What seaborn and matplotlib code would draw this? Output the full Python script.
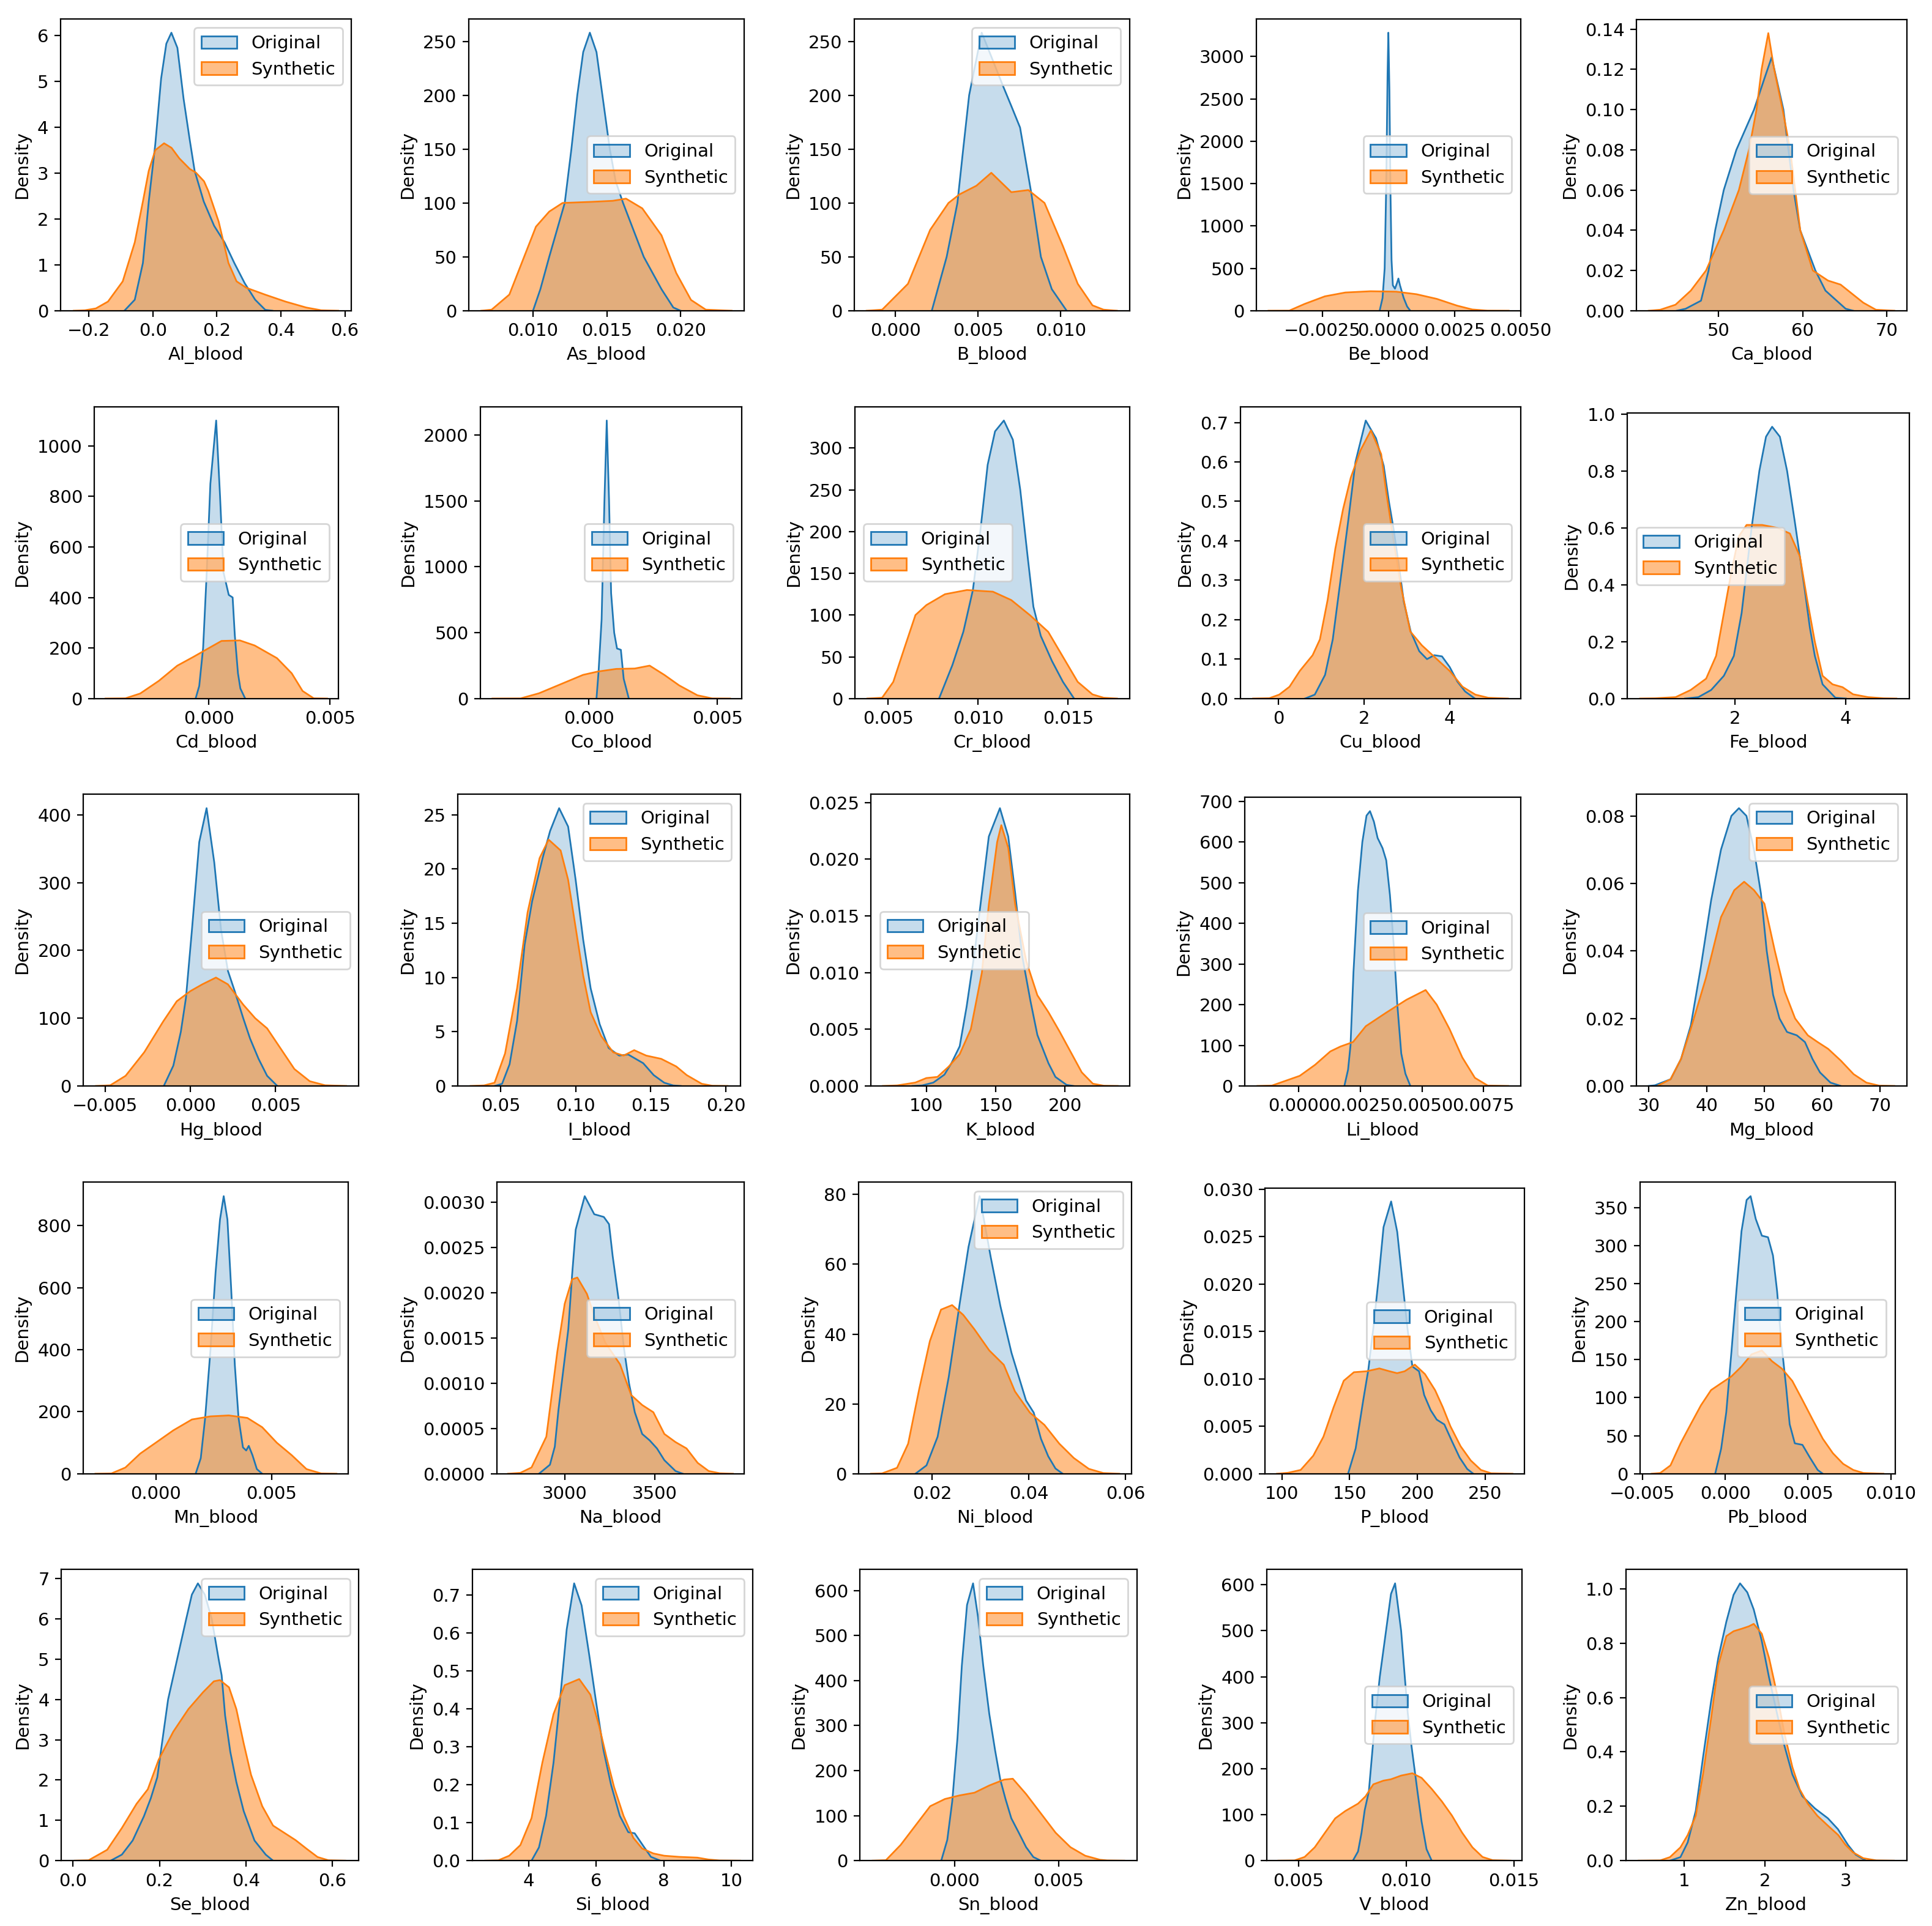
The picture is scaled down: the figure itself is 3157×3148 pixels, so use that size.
import matplotlib
matplotlib.use("Agg")
import matplotlib.pyplot as plt
from matplotlib.colors import to_rgba
from matplotlib.patches import Patch
import seaborn as sns

# density curves (x value, density)
AL_ORIG_X = [-0.0889, -0.0564, -0.031, -0.0127, 0.0077, 0.0259, 0.0422, 0.058, 0.0768, 0.0961, 0.1154, 0.1306, 0.1591, 0.1916, 0.2241, 0.2546, 0.2871, 0.3197, 0.3512, 0.3735]
AL_ORIG_D = [0, 0.24, 1.04, 2.38, 3.63, 5.06, 5.82, 6.06, 5.73, 4.62, 3.72, 3.05, 2.38, 1.85, 1.49, 1.04, 0.6, 0.24, 0.02, 0]
AL_SYN_X = [-0.247, -0.212, -0.178, -0.14, -0.094, -0.0564, -0.031, -0.0127, 0.0077, 0.0351, 0.0585, 0.0829, 0.1154, 0.1347, 0.1601, 0.1733, 0.2058, 0.2363, 0.2617, 0.2922, 0.3512, 0.4142, 0.4792, 0.526, 0.579]
AL_SYN_D = [0, 0.01, 0.05, 0.2, 0.64, 1.49, 2.38, 3.05, 3.5, 3.65, 3.55, 3.32, 3.09, 3.01, 2.82, 2.61, 1.94, 1.04, 0.64, 0.5, 0.35, 0.2, 0.07, 0.01, 0]

AS_ORIG_X = [0.0100, 0.0105, 0.0111, 0.01215, 0.0126, 0.0130, 0.0134, 0.01385, 0.0143, 0.0147, 0.0152, 0.0156, 0.0161, 0.0168, 0.0175, 0.0187, 0.0195, 0.0200]
AS_ORIG_D = [0, 20, 50, 100, 150, 200, 240, 258, 240, 200, 150, 120, 100, 75, 50, 20, 3, 0]
AS_SYN_X = [0.0065, 0.0072, 0.0084, 0.0094, 0.0102, 0.0111, 0.0120, 0.0139, 0.0154, 0.0163, 0.0174, 0.0187, 0.0197, 0.0207, 0.0217, 0.02345]
AS_SYN_D = [0, 1, 15, 50, 78, 92, 100, 101, 102, 104, 95, 70, 35, 10, 1, 0]

B_ORIG_X = [0.0022, 0.0031, 0.00375, 0.0041, 0.00446, 0.00522, 0.0059, 0.00647, 0.00701, 0.00754, 0.00821, 0.0088, 0.00946, 0.01036]
B_ORIG_D = [0, 50, 100, 150, 200, 258, 232, 210, 190, 170, 110, 50, 20, 0]
B_SYN_X = [-0.00174, -0.0008, 0.00076, 0.0021, 0.00321, 0.00388, 0.0049, 0.0058, 0.00701, 0.00804, 0.00902, 0.01013, 0.01103, 0.01192, 0.01259, 0.0134]
B_SYN_D = [0, 1, 25, 75, 100, 108, 116, 128, 110, 112, 100, 60, 25, 5, 1, 0]

BE_ORIG_X = [-0.00033, -0.00022, -0.00014, -0.00008, -0.00003, 0.0, 0.00004, 0.00008, 0.00012, 0.00017, 0.00025, 0.00033, 0.00038, 0.00044, 0.00058, 0.00071, 0.00083]
BE_ORIG_D = [0, 150, 500, 1500, 2800, 3280, 2600, 1400, 600, 300, 260, 330, 380, 300, 150, 50, 0]
BE_SYN_X = [-0.00453, -0.00375, -0.00317, -0.0024, -0.00163, -0.00067, 0.00029, 0.00106, 0.00183, 0.0026, 0.00317, 0.00375, 0.00455]
BE_SYN_D = [0, 1, 80, 170, 215, 230, 225, 195, 140, 60, 15, 1, 0]

CA_ORIG_X = [45.0, 46.07, 47.89, 48.79, 49.58, 50.6, 52.1, 54.2, 55.4, 56.3, 57.7, 58.3, 58.9, 59.7, 61.5, 62.7, 65.1, 66.0]
CA_ORIG_D = [0, 0.001, 0.005, 0.02, 0.04, 0.06, 0.08, 0.10, 0.115, 0.126, 0.10, 0.08, 0.06, 0.04, 0.02, 0.01, 0.001, 0]
CA_SYN_X = [41.67, 43.05, 44.86, 46.68, 48.49, 50.6, 52.4, 53.6, 54.5, 55.1, 55.9, 56.6, 57.6, 58.5, 59.1, 59.7, 61.2, 63.0, 64.5, 65.4, 67.2, 68.7, 70.9]
CA_SYN_D = [0, 0.0005, 0.003, 0.01, 0.02, 0.04, 0.06, 0.08, 0.10, 0.12, 0.138, 0.12, 0.10, 0.08, 0.06, 0.04, 0.02, 0.015, 0.013, 0.01, 0.004, 0.0005, 0]

CD_ORIG_X = [-0.00055, -0.0004, -0.00024, -0.00009, 0.00006, 0.0003, 0.00046, 0.0006, 0.00082, 0.00098, 0.00107, 0.0012, 0.0013, 0.0015]
CD_ORIG_D = [0, 50, 200, 500, 850, 1100, 800, 500, 410, 400, 250, 100, 40, 0]
CD_SYN_X = [-0.00427, -0.00345, -0.00284, -0.00207, -0.00131, -0.00064, -0.00009, 0.00052, 0.00128, 0.00189, 0.00281, 0.00342, 0.00387, 0.00433, 0.00488]
CD_SYN_D = [0, 1, 20, 70, 130, 165, 195, 228, 230, 210, 160, 100, 30, 1, 0]

CO_ORIG_X = [0.00029, 0.00037, 0.00049, 0.0006, 0.00069, 0.00078, 0.00086, 0.00098, 0.00109, 0.00124, 0.00135, 0.00155]
CO_ORIG_D = [0, 200, 600, 1500, 2110, 1500, 800, 500, 380, 370, 150, 0]
CO_SYN_X = [-0.00376, -0.00267, -0.00195, -0.00109, -0.00023, 0.00034, 0.00106, 0.00178, 0.00236, 0.00293, 0.00351, 0.00422, 0.0048, 0.00549]
CO_SYN_D = [0, 1, 40, 110, 180, 205, 225, 228, 250, 180, 100, 25, 1, 0]

CR_ORIG_X = [0.00783, 0.00857, 0.00918, 0.00971, 0.01012, 0.01053, 0.01094, 0.01143, 0.01193, 0.01234, 0.01275, 0.01307, 0.01348, 0.0141, 0.01471, 0.01533]
CR_ORIG_D = [0, 40, 80, 130, 200, 280, 320, 333, 310, 250, 170, 110, 75, 45, 20, 0]
CR_SYN_X = [0.00385, 0.00467, 0.00529, 0.0059, 0.00652, 0.00713, 0.00816, 0.00938, 0.01082, 0.01184, 0.01287, 0.01389, 0.01471, 0.01553, 0.01635, 0.01697, 0.01771]
CR_SYN_D = [0, 1, 20, 60, 100, 112, 125, 130, 128, 118, 100, 80, 50, 20, 5, 1, 0]

CU_ORIG_X = [0.62, 0.85, 1.09, 1.27, 1.45, 1.63, 1.8, 2.04, 2.28, 2.46, 2.58, 2.69, 2.81, 2.93, 3.09, 3.29, 3.47, 3.64, 3.82, 4.0, 4.18, 4.36, 4.59]
CU_ORIG_D = [0, 0.01, 0.06, 0.15, 0.3, 0.45, 0.6, 0.705, 0.66, 0.59, 0.5, 0.43, 0.34, 0.245, 0.17, 0.12, 0.1, 0.11, 0.107, 0.08, 0.043, 0.018, 0]
CU_SYN_X = [-0.59, -0.21, 0.02, 0.26, 0.5, 0.8, 0.97, 1.15, 1.33, 1.51, 1.69, 1.92, 2.16, 2.4, 2.51, 2.69, 2.87, 3.08, 3.35, 3.7, 4.0, 4.3, 4.6, 4.9, 5.36]
CU_SYN_D = [0, 0.001, 0.01, 0.03, 0.07, 0.11, 0.15, 0.25, 0.38, 0.48, 0.56, 0.63, 0.68, 0.62, 0.53, 0.4, 0.28, 0.17, 0.135, 0.1, 0.07, 0.03, 0.01, 0.002, 0]

FE_ORIG_X = [1.1, 1.34, 1.57, 1.8, 1.98, 2.12, 2.21, 2.3, 2.44, 2.56, 2.67, 2.81, 2.94, 3.08, 3.17, 3.26, 3.35, 3.44, 3.58, 3.81, 4.0]
FE_ORIG_D = [0, 0.005, 0.03, 0.08, 0.15, 0.3, 0.45, 0.6, 0.8, 0.92, 0.955, 0.92, 0.8, 0.62, 0.5, 0.38, 0.25, 0.15, 0.05, 0.003, 0]
FE_SYN_X = [0.29, 0.56, 0.93, 1.2, 1.48, 1.66, 1.8, 1.94, 2.07, 2.21, 2.49, 2.76, 2.99, 3.17, 3.3, 3.44, 3.58, 3.76, 3.94, 4.13, 4.4, 4.68, 4.91]
FE_SYN_D = [0, 0.001, 0.005, 0.03, 0.07, 0.15, 0.3, 0.45, 0.57, 0.61, 0.61, 0.6, 0.58, 0.5, 0.35, 0.2, 0.08, 0.05, 0.04, 0.015, 0.005, 0.001, 0]

HG_ORIG_X = [-0.00156, -0.001, -0.00056, -0.00026, 0.00009, 0.00052, 0.00095, 0.0014, 0.0018, 0.0022, 0.0026, 0.0031, 0.0035, 0.004, 0.0045, 0.0051]
HG_ORIG_D = [0, 30, 80, 130, 230, 360, 410, 330, 230, 170, 140, 100, 70, 40, 15, 0]
HG_SYN_X = [-0.00554, -0.0047, -0.0038, -0.0027, -0.0016, -0.0008, 0.0, 0.0007, 0.0015, 0.0022, 0.0031, 0.0038, 0.0045, 0.0053, 0.0061, 0.007, 0.0079, 0.00914]
HG_SYN_D = [0, 1, 15, 50, 95, 125, 140, 150, 160, 150, 120, 100, 85, 55, 25, 7, 1, 0]

I_ORIG_X = [0.046, 0.051, 0.056, 0.061, 0.066, 0.071, 0.078, 0.083, 0.089, 0.095, 0.1, 0.105, 0.11, 0.116, 0.122, 0.129, 0.135, 0.145, 0.152, 0.159, 0.165, 0.17]
I_ORIG_D = [0, 0.2, 2, 6, 13, 17, 21, 23.5, 25.6, 23.9, 19, 13.5, 9, 5.7, 3.5, 2.8, 2.9, 2.1, 1.0, 0.3, 0.05, 0]
I_SYN_X = [0.030, 0.039, 0.046, 0.053, 0.061, 0.068, 0.076, 0.082, 0.09, 0.095, 0.1, 0.105, 0.11, 0.117, 0.125, 0.132, 0.139, 0.147, 0.157, 0.167, 0.174, 0.184, 0.191, 0.2012]
I_SYN_D = [0, 0.05, 0.3, 3, 9, 16, 21, 22.7, 21.7, 19, 14.6, 10.2, 6.8, 4.6, 3.1, 2.8, 3.3, 2.8, 2.5, 1.8, 1.0, 0.2, 0.02, 0]

K_ORIG_X = [90, 97, 105, 113, 118, 124, 129, 135, 140, 145, 153, 159, 164, 169, 175, 180, 188, 193, 201, 206]
K_ORIG_D = [0, 0.00005, 0.0003, 0.001, 0.002, 0.0035, 0.007, 0.012, 0.017, 0.022, 0.0245, 0.022, 0.017, 0.0115, 0.0075, 0.0045, 0.002, 0.0008, 0.0001, 0]
K_SYN_X = [68.6, 79, 92, 100, 108, 116, 124, 132, 140, 145, 151, 154, 159, 164, 172, 180, 188, 196, 204, 212, 220, 228, 237.9]
K_SYN_D = [0, 0.00005, 0.0003, 0.0007, 0.0008, 0.0017, 0.0028, 0.005, 0.01, 0.016, 0.0215, 0.023, 0.021, 0.016, 0.011, 0.008, 0.0065, 0.0048, 0.003, 0.0012, 0.0002, 0.00002, 0]

LI_ORIG_X = [0.00185, 0.002, 0.0021, 0.00222, 0.0024, 0.00258, 0.00275, 0.00289, 0.00305, 0.0032, 0.0034, 0.00355, 0.0037, 0.00385, 0.004, 0.00416, 0.00433, 0.00453]
LI_ORIG_D = [0, 40, 100, 280, 480, 600, 665, 676, 650, 610, 585, 555, 470, 350, 200, 80, 30, 0]
LI_SYN_X = [-0.00168, -0.00109, 0.00004, 0.00066, 0.00128, 0.00169, 0.0022, 0.00272, 0.00354, 0.00437, 0.00515, 0.0056, 0.00612, 0.00664, 0.00715, 0.00767, 0.0085]
LI_SYN_D = [0, 1, 25, 52, 85, 97, 108, 147, 180, 212, 236, 200, 140, 70, 20, 1, 0]

MG_ORIG_X = [30.02, 31.1, 33.8, 35.6, 37.3, 39.0, 40.8, 42.5, 44.3, 45.6, 46.9, 48.2, 49.4, 50.4, 51.5, 52.6, 53.9, 55.6, 57.0, 58.3, 59.6, 61.4, 63.2]
MG_ORIG_D = [0, 0.0002, 0.002, 0.008, 0.018, 0.035, 0.055, 0.07, 0.08, 0.0823, 0.08, 0.07, 0.057, 0.04, 0.027, 0.02, 0.016, 0.015, 0.013, 0.008, 0.004, 0.001, 0]
MG_SYN_X = [31.5, 33.8, 35.6, 37.3, 39.9, 42.5, 44.8, 46.5, 48.2, 50.0, 51.8, 53.5, 55.3, 57.5, 59.2, 61.0, 63.2, 65.4, 67.6, 69.8, 72.44]
MG_SYN_D = [0, 0.002, 0.008, 0.017, 0.032, 0.05, 0.058, 0.0605, 0.058, 0.054, 0.04, 0.028, 0.02, 0.015, 0.013, 0.011, 0.0075, 0.0035, 0.001, 0.0001, 0]

MN_ORIG_X = [0.00172, 0.00194, 0.00213, 0.00236, 0.00258, 0.00277, 0.00293, 0.00309, 0.00325, 0.00341, 0.00357, 0.00376, 0.0039, 0.00401, 0.00417, 0.00436, 0.00459]
MN_ORIG_D = [0, 50, 180, 400, 650, 820, 895, 820, 600, 350, 180, 85, 75, 90, 60, 15, 0]
MN_SYN_X = [-0.0026, -0.00191, -0.00131, -0.00067, 0.0, 0.00076, 0.00156, 0.00236, 0.00315, 0.00395, 0.00459, 0.00522, 0.00586, 0.0065, 0.00713, 0.00779]
MN_SYN_D = [0, 1, 20, 65, 100, 140, 175, 185, 188, 180, 150, 100, 60, 15, 1, 0]

NA_ORIG_X = [2857, 2918, 2945, 2965, 2980, 3020, 3041, 3061, 3111, 3164, 3217, 3246, 3266, 3299, 3328, 3357, 3389, 3430, 3471, 3512, 3553, 3615, 3656]
NA_ORIG_D = [0, 0.0001, 0.0003, 0.0007, 0.00095, 0.0016, 0.0022, 0.0027, 0.00307, 0.00287, 0.00284, 0.00276, 0.00241, 0.00193, 0.0014, 0.001, 0.00068, 0.00044, 0.00037, 0.00028, 0.00015, 0.00003, 0]
NA_SYN_X = [2685.5, 2754, 2816, 2898, 2959, 3000, 3041, 3070, 3123, 3164, 3225, 3307, 3369, 3430, 3492, 3553, 3615, 3676, 3738, 3799, 3861, 3933.5]
NA_SYN_D = [0, 0.00001, 0.00007, 0.00041, 0.00135, 0.00188, 0.00215, 0.00217, 0.00199, 0.00175, 0.00145, 0.00121, 0.00087, 0.00076, 0.00068, 0.00044, 0.00035, 0.00028, 0.00012, 0.00003, 0.000005, 0]

NI_ORIG_X = [0.0165, 0.0188, 0.0211, 0.0234, 0.0257, 0.0275, 0.0298, 0.0321, 0.0341, 0.0364, 0.0394, 0.041, 0.0425, 0.044, 0.0455, 0.047]
NI_ORIG_D = [0, 2.4, 10.6, 27.7, 49, 65, 79.5, 62, 48, 34.6, 21, 17.5, 10, 5, 1.5, 0]
NI_SYN_X = [0.0073, 0.0096, 0.0127, 0.015, 0.0173, 0.0195, 0.0218, 0.0241, 0.0264, 0.0287, 0.0318, 0.0348, 0.0371, 0.0402, 0.0432, 0.0463, 0.0493, 0.0524, 0.0554, 0.0587]
NI_SYN_D = [0, 0.1, 1.7, 8.6, 24.3, 38, 47, 48.3, 45.5, 41.4, 35.3, 31.2, 23.6, 17.5, 14, 8.6, 4.5, 1.4, 0.2, 0]

P_ORIG_X = [148.8, 154.4, 160, 163.8, 167.5, 171.3, 175, 180.6, 185.1, 188.8, 192.6, 196.3, 201.2, 205, 209.8, 214.3, 219.9, 225.6, 231.2, 236.8, 241.3]
P_ORIG_D = [0, 0.00267, 0.00775, 0.011, 0.0154, 0.0205, 0.026, 0.0287, 0.0255, 0.0205, 0.0154, 0.0113, 0.0108, 0.0083, 0.0067, 0.0057, 0.0052, 0.0034, 0.0017, 0.0005, 0]
P_SYN_X = [96.3, 104.4, 113.8, 123.1, 130.6, 138.1, 145.6, 153.1, 162.5, 171.9, 179.4, 185, 190.6, 198.1, 205.6, 213.1, 218.8, 224.4, 231.9, 239.4, 246.9, 254.4, 270.2]
P_SYN_D = [0, 0.0001, 0.0004, 0.0019, 0.0039, 0.007, 0.0098, 0.0107, 0.0108, 0.0111, 0.0108, 0.0106, 0.0108, 0.0115, 0.0105, 0.0088, 0.007, 0.005, 0.0029, 0.0014, 0.0004, 0.00005, 0]

PB_ORIG_X = [-0.00061, -0.00025, 0.00006, 0.00037, 0.00067, 0.00098, 0.00129, 0.00153, 0.00184, 0.00221, 0.00258, 0.00288, 0.00313, 0.00337, 0.00368, 0.00389, 0.0042, 0.00466, 0.00512, 0.00558, 0.00589]
PB_ORIG_D = [0, 33, 81, 160, 240, 319, 360, 365, 335, 313, 311, 287, 240, 176, 113, 65, 40, 38, 21, 5, 0]
PB_SYN_X = [-0.00445, -0.00393, -0.00331, -0.0027, -0.00209, -0.00147, -0.00086, -0.00025, 0.00037, 0.00098, 0.00159, 0.00221, 0.00282, 0.00343, 0.00405, 0.00466, 0.00528, 0.00589, 0.0065, 0.00712, 0.00773, 0.00834, 0.00955]
PB_SYN_D = [0, 1, 11, 40, 65, 90, 110, 119, 128, 141, 157, 162, 148, 138, 122, 97, 71, 46, 27, 13, 5, 1, 0]

SE_ORIG_X = [0.087, 0.113, 0.138, 0.164, 0.18, 0.195, 0.207, 0.22, 0.241, 0.262, 0.275, 0.289, 0.305, 0.321, 0.337, 0.344, 0.352, 0.364, 0.378, 0.395, 0.42, 0.446, 0.463]
SE_ORIG_D = [0, 0.15, 0.5, 1.1, 1.55, 2.07, 3.0, 4.0, 5.0, 6.0, 6.6, 6.88, 6.6, 6.0, 5.0, 4.6, 3.6, 2.7, 1.95, 1.23, 0.5, 0.15, 0]
SE_SYN_X = [0.004, 0.036, 0.079, 0.113, 0.147, 0.173, 0.198, 0.232, 0.267, 0.301, 0.326, 0.34, 0.361, 0.378, 0.395, 0.412, 0.438, 0.463, 0.489, 0.515, 0.54, 0.566, 0.591, 0.63]
SE_SYN_D = [0, 0.01, 0.27, 0.81, 1.41, 1.77, 2.5, 3.2, 3.76, 4.18, 4.45, 4.48, 4.3, 3.76, 2.91, 2.13, 1.35, 0.87, 0.69, 0.51, 0.3, 0.09, 0.01, 0]

SI_ORIG_X = [4.09, 4.31, 4.52, 4.74, 4.96, 5.13, 5.35, 5.57, 5.79, 6.0, 6.22, 6.44, 6.7, 6.95, 7.14, 7.4, 7.62, 7.9]
SI_ORIG_D = [0, 0.035, 0.118, 0.258, 0.449, 0.609, 0.73, 0.672, 0.545, 0.417, 0.29, 0.2, 0.118, 0.075, 0.072, 0.038, 0.01, 0]
SI_SYN_X = [2.72, 3.11, 3.43, 3.76, 4.09, 4.41, 4.74, 5.07, 5.5, 5.83, 6.09, 6.31, 6.53, 6.81, 7.1, 7.36, 7.69, 8.01, 8.45, 8.99, 9.32, 9.65, 10.26]
SI_SYN_D = [0, 0.001, 0.013, 0.041, 0.112, 0.258, 0.386, 0.462, 0.478, 0.437, 0.354, 0.271, 0.194, 0.118, 0.06, 0.032, 0.019, 0.013, 0.01, 0.008, 0.003, 0.0005, 0]

SN_ORIG_X = [-0.00064, -0.00035, -0.00011, 0.00014, 0.00035, 0.0006, 0.00089, 0.00113, 0.00138, 0.00167, 0.00195, 0.0022, 0.00245, 0.00273, 0.00309, 0.00344, 0.00379, 0.00415]
SN_ORIG_D = [0, 46, 132, 272, 433, 568, 616, 541, 433, 326, 245, 180, 137, 94, 62, 30, 8, 0]
SN_SYN_X = [-0.00394, -0.0033, -0.00259, -0.00188, -0.00117, -0.00046, 0.00025, 0.00096, 0.00167, 0.00238, 0.0028, 0.00344, 0.00415, 0.00486, 0.00557, 0.00628, 0.00699, 0.00734, 0.00816]
SN_SYN_D = [0, 1, 35, 78, 121, 137, 145, 151, 167, 180, 182, 148, 105, 62, 30, 11, 2, 0.5, 0]

V_ORIG_X = [0.00752, 0.00776, 0.00792, 0.00807, 0.00826, 0.00854, 0.00877, 0.00906, 0.00929, 0.00948, 0.00976, 0.00993, 0.01007, 0.01024, 0.01038, 0.01052, 0.01071, 0.01094, 0.01118]
V_ORIG_D = [0, 20, 60, 110, 150, 300, 400, 500, 580, 603, 500, 400, 320, 250, 200, 150, 85, 25, 0]
V_SYN_X = [0.00406, 0.00481, 0.00528, 0.00575, 0.00623, 0.0067, 0.00717, 0.00776, 0.00811, 0.00847, 0.00894, 0.00929, 0.00976, 0.01028, 0.01071, 0.01118, 0.01165, 0.01212, 0.01259, 0.01307, 0.01354, 0.01401, 0.01484]
V_SYN_D = [0, 0.5, 8, 29, 61, 92, 108, 124, 140, 166, 174, 177, 185, 190, 180, 156, 129, 98, 61, 29, 8, 1, 0]

ZN_ORIG_X = [0.82, 0.95, 1.04, 1.14, 1.23, 1.33, 1.42, 1.52, 1.61, 1.69, 1.78, 1.86, 1.96, 2.05, 2.15, 2.24, 2.34, 2.464, 2.62, 2.78, 2.905, 3.03, 3.126, 3.252]
ZN_ORIG_D = [0, 0.013, 0.067, 0.183, 0.379, 0.585, 0.746, 0.879, 0.978, 1.02, 0.987, 0.924, 0.808, 0.674, 0.54, 0.424, 0.317, 0.237, 0.192, 0.156, 0.116, 0.058, 0.022, 0]
ZN_SYN_X = [0.43, 0.7, 0.82, 0.95, 1.04, 1.14, 1.23, 1.33, 1.42, 1.52, 1.61, 1.71, 1.8, 1.86, 1.96, 2.05, 2.15, 2.24, 2.34, 2.43, 2.53, 2.65, 2.78, 2.91, 3.0, 3.09, 3.22, 3.38, 3.6]
ZN_SYN_D = [0, 0.001, 0.013, 0.049, 0.094, 0.165, 0.317, 0.522, 0.719, 0.826, 0.844, 0.853, 0.862, 0.871, 0.835, 0.746, 0.612, 0.469, 0.344, 0.263, 0.21, 0.165, 0.129, 0.094, 0.058, 0.031, 0.009, 0.001, 0]

ELEMENTS = ["Al", "As", "B", "Be", "Ca",
            "Cd", "Co", "Cr", "Cu", "Fe",
            "Hg", "I", "K", "Li", "Mg",
            "Mn", "Na", "Ni", "P", "Pb",
            "Se", "Si", "Sn", "V", "Zn"]

CURVES = {
    "Al": (AL_ORIG_X, AL_ORIG_D, AL_SYN_X, AL_SYN_D),
    "As": (AS_ORIG_X, AS_ORIG_D, AS_SYN_X, AS_SYN_D),
    "B": (B_ORIG_X, B_ORIG_D, B_SYN_X, B_SYN_D),
    "Be": (BE_ORIG_X, BE_ORIG_D, BE_SYN_X, BE_SYN_D),
    "Ca": (CA_ORIG_X, CA_ORIG_D, CA_SYN_X, CA_SYN_D),
    "Cd": (CD_ORIG_X, CD_ORIG_D, CD_SYN_X, CD_SYN_D),
    "Co": (CO_ORIG_X, CO_ORIG_D, CO_SYN_X, CO_SYN_D),
    "Cr": (CR_ORIG_X, CR_ORIG_D, CR_SYN_X, CR_SYN_D),
    "Cu": (CU_ORIG_X, CU_ORIG_D, CU_SYN_X, CU_SYN_D),
    "Fe": (FE_ORIG_X, FE_ORIG_D, FE_SYN_X, FE_SYN_D),
    "Hg": (HG_ORIG_X, HG_ORIG_D, HG_SYN_X, HG_SYN_D),
    "I": (I_ORIG_X, I_ORIG_D, I_SYN_X, I_SYN_D),
    "K": (K_ORIG_X, K_ORIG_D, K_SYN_X, K_SYN_D),
    "Li": (LI_ORIG_X, LI_ORIG_D, LI_SYN_X, LI_SYN_D),
    "Mg": (MG_ORIG_X, MG_ORIG_D, MG_SYN_X, MG_SYN_D),
    "Mn": (MN_ORIG_X, MN_ORIG_D, MN_SYN_X, MN_SYN_D),
    "Na": (NA_ORIG_X, NA_ORIG_D, NA_SYN_X, NA_SYN_D),
    "Ni": (NI_ORIG_X, NI_ORIG_D, NI_SYN_X, NI_SYN_D),
    "P": (P_ORIG_X, P_ORIG_D, P_SYN_X, P_SYN_D),
    "Pb": (PB_ORIG_X, PB_ORIG_D, PB_SYN_X, PB_SYN_D),
    "Se": (SE_ORIG_X, SE_ORIG_D, SE_SYN_X, SE_SYN_D),
    "Si": (SI_ORIG_X, SI_ORIG_D, SI_SYN_X, SI_SYN_D),
    "Sn": (SN_ORIG_X, SN_ORIG_D, SN_SYN_X, SN_SYN_D),
    "V": (V_ORIG_X, V_ORIG_D, V_SYN_X, V_SYN_D),
    "Zn": (ZN_ORIG_X, ZN_ORIG_D, ZN_SYN_X, ZN_SYN_D),
}

# panel boxes in output pixels (left, top, right, bottom); the panels were tiled one by one
FIG_W, FIG_H = 3157, 3148
PANEL_BOX = [
    (98.9, 30.7, 574.2, 507.9), (766.0, 30.7, 1216.0, 507.9), (1395.7, 30.7, 1845.6, 507.9),
    (2053.3, 30.7, 2484.9, 507.9), (2674.0, 31.5, 3115.6, 507.9),
    (154.4, 664.6, 552.5, 1141.8), (785.3, 664.6, 1212.3, 1141.8), (1396.9, 664.6, 1845.6, 1141.8),
    (2026.8, 664.6, 2484.9, 1141.8), (2659.1, 675.3, 3119.7, 1141.8),
    (136.3, 1298.2, 586.2, 1775.0), (747.9, 1298.2, 1209.9, 1775.0), (1423.4, 1298.2, 1845.6, 1775.0),
    (2034.2, 1303.3, 2484.9, 1775.0), (2674.0, 1298.2, 3115.6, 1775.0),
    (136.3, 1932.4, 569.4, 2408.8), (811.8, 1932.4, 1216.0, 2408.8), (1402.9, 1932.4, 1849.2, 2408.8),
    (2067.4, 1941.5, 2490.7, 2408.8), (2679.9, 1932.4, 3096.5, 2408.8),
    (100.1, 2565.3, 586.2, 3041.2), (772.0, 2565.3, 1230.4, 3041.2), (1405.3, 2565.3, 1857.7, 3041.2),
    (2069.9, 2565.3, 2487.3, 3041.2), (2656.6, 2565.3, 3115.6, 3041.2),
]
LEGEND_LOC = ["upper right", "center right", "upper right", "center right", "center right",
              "center right", "center right", "center left", "center right", "center left",
              "center right", "upper right", "center left", "center right", "upper right",
              "center right", "center right", "upper right", "center right", "center right",
              "upper right", "upper right", "upper right", "center right", "center right"]


def draw_density(ax, xs, ds, color, alpha):
    # filled density with a solid outline, like kdeplot(fill=True)
    ax.fill_between(xs, ds, color=color, alpha=alpha, linewidth=0)
    sns.lineplot(x=xs, y=ds, ax=ax, color=color, linewidth=1,
                 estimator=None, sort=False)


def main():
    plt.rcParams["font.size"] = 10.5
    pal = sns.color_palette("tab10")
    fig = plt.figure(figsize=(FIG_W / 200, FIG_H / 200), dpi=200)
    for name, box, loc in zip(ELEMENTS, PANEL_BOX, LEGEND_LOC):
        l, t, r, b = box
        ax = fig.add_axes([l / FIG_W, 1 - b / FIG_H, (r - l) / FIG_W, (b - t) / FIG_H])
        ox, od, sx, sd = CURVES[name]
        draw_density(ax, ox, od, pal[0], 0.25)
        draw_density(ax, sx, sd, pal[1], 0.5)
        ax.set_ylim(bottom=0)
        ax.set_xlabel(name + "_blood")
        ax.set_ylabel("Density")
        handles = [
            Patch(facecolor=to_rgba(pal[0], 0.25), edgecolor=pal[0], linewidth=1, label="Original"),
            Patch(facecolor=to_rgba(pal[1], 0.5), edgecolor=pal[1], linewidth=1, label="Synthetic"),
        ]
        ax.legend(handles=handles, loc=loc)
    fig.savefig("out.png", dpi=200)


if __name__ == "__main__":
    main()
